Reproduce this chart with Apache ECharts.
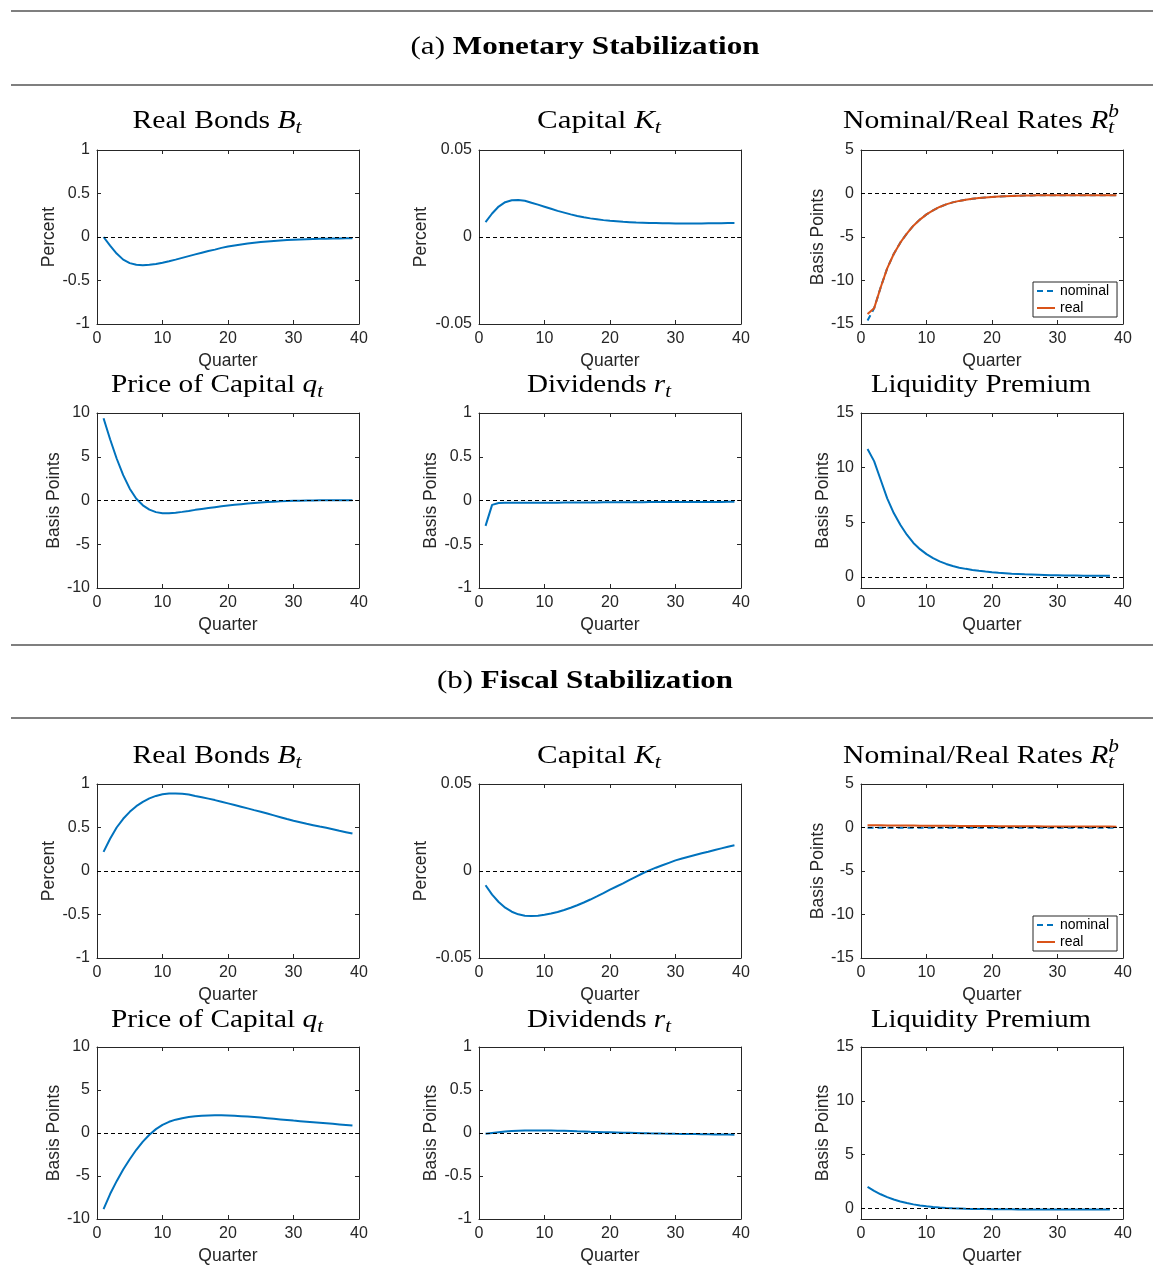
<!DOCTYPE html>
<html><head><meta charset="utf-8">
<script src="https://cdn.jsdelivr.net/npm/echarts@6/dist/echarts.min.js"></script>
<style>html,body{margin:0;padding:0;background:#fff}#c{width:1153px;height:1266px}</style>
</head><body><div id="c"></div>
<script>
// ---------------- DATA ----------------
const quarters = [1,2,3,4,5,6,7,8,9,10,11,12,13,14,15,16,17,18,19,20,21,22,23,24,25,26,27,28,29,30,31,32,33,34,35,36,37,38,39];
const quartersLiq = [1,2,3,4,5,6,7,8,9,10,11,12,13,14,15,16,17,18,19,20,21,22,23,24,25,26,27,28,29,30,31,32,33,34,35,36,37,38];
const xTicks = [0,10,20,30,40];

// (a) Monetary stabilization
const monBonds = [0.00,-0.10,-0.19,-0.26,-0.30,-0.32,-0.326,-0.32,-0.31,-0.295,-0.278,-0.26,-0.24,-0.22,-0.20,-0.18,-0.16,-0.145,-0.125,-0.11,-0.097,-0.085,-0.075,-0.066,-0.058,-0.051,-0.045,-0.04,-0.035,-0.031,-0.028,-0.025,-0.023,-0.021,-0.019,-0.017,-0.016,-0.015,-0.014];
const monCapital = [0.0085,0.0135,0.0175,0.0200,0.0211,0.0213,0.0208,0.0197,0.0186,0.0174,0.0162,0.0150,0.0140,0.0130,0.0121,0.0113,0.0107,0.0102,0.0097,0.0093,0.0090,0.0087,0.0085,0.0083,0.0082,0.0081,0.0080,0.0079,0.0079,0.0078,0.0078,0.0078,0.0078,0.0078,0.0079,0.0079,0.0079,0.0080,0.0080];
const monNominal = [-14.6,-13.2,-10.8,-8.6,-6.95,-5.65,-4.6,-3.7,-3.0,-2.4,-1.95,-1.55,-1.25,-1.02,-0.85,-0.72,-0.61,-0.52,-0.45,-0.39,-0.35,-0.31,-0.28,-0.26,-0.24,-0.22,-0.21,-0.2,-0.2,-0.19,-0.19,-0.19,-0.19,-0.19,-0.19,-0.19,-0.19,-0.19,-0.19];
const monReal = [-13.85,-13.2,-10.8,-8.6,-6.95,-5.65,-4.6,-3.7,-3.0,-2.4,-1.95,-1.55,-1.25,-1.02,-0.85,-0.72,-0.61,-0.52,-0.45,-0.39,-0.35,-0.31,-0.28,-0.26,-0.24,-0.22,-0.21,-0.2,-0.2,-0.19,-0.19,-0.19,-0.19,-0.19,-0.19,-0.19,-0.19,-0.19,-0.19];
const monPrice = [9.4,7.0,4.8,2.9,1.35,0.2,-0.55,-1.05,-1.33,-1.45,-1.46,-1.4,-1.3,-1.19,-1.07,-0.96,-0.86,-0.76,-0.66,-0.57,-0.49,-0.42,-0.35,-0.29,-0.23,-0.18,-0.14,-0.1,-0.07,-0.04,-0.02,0.0,0.01,0.02,0.03,0.04,0.04,0.04,0.04];
const monDividends = [-0.29,-0.05,-0.029,-0.027,-0.027,-0.027,-0.027,-0.026,-0.026,-0.026,-0.025,-0.025,-0.024,-0.024,-0.023,-0.023,-0.022,-0.022,-0.021,-0.021,-0.020,-0.020,-0.019,-0.019,-0.019,-0.018,-0.018,-0.018,-0.017,-0.017,-0.017,-0.017,-0.016,-0.016,-0.016,-0.016,-0.016,-0.015,-0.015];
const monLiquidity = [11.7,10.6,8.9,7.2,5.85,4.78,3.87,3.12,2.55,2.1,1.73,1.44,1.2,1.01,0.86,0.75,0.65,0.57,0.5,0.44,0.39,0.35,0.31,0.28,0.25,0.23,0.21,0.19,0.17,0.16,0.15,0.14,0.14,0.13,0.13,0.12,0.12,0.12];

// (b) Fiscal stabilization
const fisBonds = [0.22,0.37,0.50,0.60,0.68,0.745,0.795,0.835,0.863,0.882,0.891,0.892,0.888,0.88,0.862,0.848,0.832,0.815,0.796,0.777,0.758,0.739,0.720,0.700,0.681,0.660,0.639,0.618,0.597,0.577,0.560,0.543,0.527,0.511,0.496,0.479,0.462,0.446,0.43];
const fisCapital = [-0.0082,-0.0136,-0.0178,-0.0211,-0.0234,-0.0249,-0.0257,-0.0259,-0.0257,-0.0251,-0.0244,-0.0236,-0.0224,-0.0211,-0.0197,-0.0181,-0.0164,-0.0146,-0.0127,-0.0107,-0.0089,-0.0071,-0.0051,-0.0032,-0.0013,0.0004,0.0019,0.0033,0.0047,0.0061,0.0072,0.0082,0.0092,0.0102,0.0111,0.0121,0.0130,0.0139,0.0148];
const fisNominal = [-0.03,-0.03,-0.03,-0.02,-0.02,-0.02,-0.02,-0.02,-0.02,-0.02,-0.02,-0.02,-0.02,-0.02,-0.02,-0.02,-0.02,-0.02,-0.02,-0.02,-0.02,-0.02,-0.02,-0.02,-0.02,-0.02,-0.02,-0.02,-0.02,-0.02,-0.02,-0.02,-0.02,-0.02,-0.02,-0.02,-0.02,-0.02,-0.02];
const fisReal = [0.26,0.25,0.245,0.24,0.235,0.23,0.225,0.22,0.215,0.21,0.205,0.2,0.195,0.19,0.185,0.18,0.175,0.17,0.165,0.16,0.155,0.15,0.146,0.142,0.138,0.134,0.13,0.127,0.124,0.121,0.118,0.115,0.112,0.11,0.108,0.106,0.104,0.102,0.1];
const fisPrice = [-8.85,-7.1,-5.6,-4.25,-3.05,-1.95,-1.0,-0.2,0.45,0.95,1.3,1.55,1.72,1.85,1.94,2.0,2.04,2.06,2.06,2.04,2.0,1.96,1.91,1.85,1.79,1.72,1.65,1.58,1.51,1.44,1.38,1.32,1.26,1.2,1.14,1.07,1.0,0.93,0.86];
const fisDividends = [-0.01,0.0,0.01,0.017,0.022,0.026,0.028,0.03,0.03,0.03,0.029,0.027,0.025,0.023,0.02,0.018,0.015,0.013,0.01,0.008,0.006,0.004,0.002,0.0,-0.002,-0.004,-0.005,-0.007,-0.008,-0.01,-0.011,-0.012,-0.013,-0.014,-0.015,-0.016,-0.017,-0.018,-0.019];
const fisLiquidity = [1.98,1.62,1.3,1.03,0.81,0.63,0.48,0.36,0.26,0.18,0.11,0.06,0.02,-0.01,-0.03,-0.05,-0.06,-0.07,-0.08,-0.09,-0.095,-0.1,-0.1,-0.105,-0.105,-0.11,-0.11,-0.11,-0.115,-0.115,-0.115,-0.12,-0.12,-0.12,-0.12,-0.12,-0.12,-0.12];

const legendNames = ['nominal','real'];
const sectionTitles = ['(a) ', 'Monetary Stabilization', '(b) ', 'Fiscal Stabilization'];

// ---------------- LAYOUT / STYLE ----------------
const SANS = '"Liberation Sans", Arial, Helvetica, sans-serif';
const SERIF = '"Liberation Serif", "Times New Roman", serif';
const AX = '#262626';
const BLUE = '#0072BD', ORANGE = '#D95319';
const COLS = [97, 479, 861];
const ROWS = [150, 413, 784, 1047];
const HEIGHTS = [174, 175, 174, 175];
const PW = 262;
const TITLE_CX = [217, 599, 981];
const TITLE_BASE = [129, 393, 764, 1028];

function pairs(xs, ys) { return ys.map((v, i) => [xs[i], v]); }

const yCfg = {
  bonds: {min: -1, max: 1, interval: 0.5, name: 'Percent', gap: 39},
  capital: {min: -0.05, max: 0.05, interval: 0.05, name: 'Percent', gap: 49},
  rates: {min: -15, max: 5, interval: 5, name: 'Basis Points', gap: 34},
  price: {min: -10, max: 10, interval: 5, name: 'Basis Points', gap: 34},
  dividends: {min: -1, max: 1, interval: 0.5, name: 'Basis Points', gap: 39},
  liquidity: {min: -1, max: 15, custom: [0, 5, 10, 15], name: 'Basis Points', gap: 28}
};

const panels = [
  {row: 0, col: 0, y: 'bonds', lines: [{d: monBonds}]},
  {row: 0, col: 1, y: 'capital', lines: [{d: monCapital}]},
  {row: 0, col: 2, y: 'rates', lines: [{d: monNominal, name: 'nominal', dash: true}, {d: monReal, name: 'real', color: ORANGE}]},
  {row: 1, col: 0, y: 'price', lines: [{d: monPrice}]},
  {row: 1, col: 1, y: 'dividends', lines: [{d: monDividends}]},
  {row: 1, col: 2, y: 'liquidity', lines: [{d: monLiquidity, x: quartersLiq}]},
  {row: 2, col: 0, y: 'bonds', lines: [{d: fisBonds}]},
  {row: 2, col: 1, y: 'capital', lines: [{d: fisCapital}]},
  {row: 2, col: 2, y: 'rates', lines: [{d: fisNominal, name: 'nominal', dash: true}, {d: fisReal, name: 'real', color: ORANGE}]},
  {row: 3, col: 0, y: 'price', lines: [{d: fisPrice}]},
  {row: 3, col: 1, y: 'dividends', lines: [{d: fisDividends}]},
  {row: 3, col: 2, y: 'liquidity', lines: [{d: fisLiquidity, x: quartersLiq}]}
];

const TICK_FS = 16, NAME_FS = 17.5;
const grid = [], xAxis = [], yAxis = [], series = [];
panels.forEach((p, k) => {
  const yc = yCfg[p.y];
  grid.push({left: COLS[p.col], top: ROWS[p.row], width: PW, height: HEIGHTS[p.row], containLabel: false});
  const xBase = {
    gridIndex: k, type: 'value', min: 0, max: 40, interval: 10,
    axisLine: {show: true, onZero: false, lineStyle: {color: AX, width: 1}},
    axisTick: {show: true, inside: true, length: 4, lineStyle: {color: AX}},
    splitLine: {show: false}
  };
  xAxis.push(Object.assign({}, xBase, {
    position: 'bottom',
    axisLabel: {show: true, color: AX, fontSize: TICK_FS, fontFamily: SANS, margin: 7},
    name: 'Quarter', nameLocation: 'middle', nameGap: 28,
    nameTextStyle: {color: AX, fontSize: NAME_FS, fontFamily: SANS}
  }));
  xAxis.push(Object.assign({}, xBase, {position: 'top', axisLabel: {show: false}}));
  const yBase = {
    gridIndex: k, type: 'value', min: yc.min, max: yc.max,
    axisLine: {show: true, onZero: false, lineStyle: {color: AX, width: 1}},
    splitLine: {show: false}
  };
  if (yc.interval) yBase.interval = yc.interval;
  const tick = {show: true, inside: true, length: 4, lineStyle: {color: AX}};
  if (yc.custom) tick.customValues = yc.custom;
  yBase.axisTick = tick;
  const lab = {show: true, color: AX, fontSize: TICK_FS, fontFamily: SANS, margin: 7};
  if (yc.custom) lab.customValues = yc.custom;
  yAxis.push(Object.assign({}, yBase, {
    position: 'left', axisLabel: lab,
    name: yc.name, nameLocation: 'middle', nameGap: yc.gap,
    nameTextStyle: {color: AX, fontSize: NAME_FS, fontFamily: SANS}
  }));
  yAxis.push(Object.assign({}, yBase, {position: 'right', axisLabel: {show: false}}));
  p.lines.forEach((ln, j) => {
    const s = {
      type: 'line', name: ln.name, xAxisIndex: 2 * k, yAxisIndex: 2 * k,
      data: pairs(ln.x || quarters, ln.d), symbol: 'none', showSymbol: false,
      lineStyle: {color: ln.color || BLUE, width: 2, type: ln.dash ? [6, 4] : 'solid'},
      itemStyle: {color: ln.color || BLUE}, z: 2 + j, silent: true
    };
    if (j === 0) {
      s.markLine = {
        silent: true, symbol: 'none', label: {show: false}, animation: false,
        lineStyle: {color: '#000', type: [4, 3], width: 1},
        data: [{yAxis: 0}]
      };
    }
    series.push(s);
  });
});

// ---------------- TITLES (text pieces) ----------------
const mctx = document.createElement('canvas').getContext('2d');
function mw(font, t) { mctx.font = font; return mctx.measureText(t).width; }
function fontStr(style, weight, size, fam) { return style + ' ' + weight + ' ' + size + 'px ' + fam; }

function makeTitle(cx, base, parts, targetW) {
  let xs = 0, lastX = 0, stackW = 0;
  const placed = [];
  parts.forEach(pt => {
    const f = fontStr(pt.italic ? 'italic' : 'normal', pt.bold ? 'bold' : 'normal', pt.size, SERIF);
    const w = mw(f, pt.t);
    let x;
    if (pt.stack) { x = lastX; stackW = Math.max(stackW, w); }
    else { xs += stackW; stackW = 0; x = xs; lastX = x; if (pt.stackStart) { stackW = w; } else { xs += w; } }
    placed.push({f, x, pt});
  });
  xs += stackW;
  const total = xs;
  const sx = targetW ? targetW / total : 1.12;
  const children = placed.map(o => ({
    type: 'text', x: o.x - total / 2, y: (o.pt.dy || 0) - 0.30 * o.pt.size,
    style: {text: o.pt.t, font: o.f, fill: '#000', textAlign: 'left', align: 'left', textVerticalAlign: 'middle', verticalAlign: 'middle'}
  }));
  return {type: 'group', x: cx, y: base, scaleX: sx, children, silent: true};
}

const TS = 25, SUB = 18;
const titleParts = [
  [{t: 'Real Bonds ', size: TS}, {t: 'B', size: TS, italic: true}, {t: 't', size: SUB, italic: true, dy: 5}],
  [{t: 'Capital ', size: TS}, {t: 'K', size: TS, italic: true}, {t: 't', size: SUB, italic: true, dy: 5}],
  [{t: 'Nominal/Real Rates ', size: TS}, {t: 'R', size: TS, italic: true}, {t: 'b', size: SUB, italic: true, dy: -11, stackStart: true}, {t: 't', size: SUB, italic: true, dy: 5, stack: true}],
  [{t: 'Price of Capital ', size: TS}, {t: 'q', size: TS, italic: true}, {t: 't', size: SUB, italic: true, dy: 5}],
  [{t: 'Dividends ', size: TS}, {t: 'r', size: TS, italic: true}, {t: 't', size: SUB, italic: true, dy: 5}],
  [{t: 'Liquidity Premium', size: TS}]
];
const titleWidths = [169, 124, 276, 212, 144, 220];

const graphic = [];
[11, 85, 645, 718].forEach(y => graphic.push({type: 'line', shape: {x1: 11, y1: y, x2: 1153, y2: y}, style: {stroke: '#555', lineWidth: 1.3}, silent: true}));
graphic.push(makeTitle(585, 55, [{t: sectionTitles[0], size: 26}, {t: sectionTitles[1], size: 26, bold: true}], 349));
graphic.push(makeTitle(585, 689, [{t: sectionTitles[2], size: 26}, {t: sectionTitles[3], size: 26, bold: true}], 296));
[0, 1, 2, 3].forEach(r => {
  [0, 1, 2].forEach(c => {
    const idx = (r % 2) * 3 + c;
    const parts = titleParts[idx].map(o => Object.assign({}, o));
    graphic.push(makeTitle(TITLE_CX[c], TITLE_BASE[r], parts, titleWidths[idx]));
  });
});

const legendBase = {
  orient: 'vertical', data: legendNames, selectedMode: false,
  itemWidth: 18, itemHeight: 8, itemGap: 3, padding: [2, 8, 2, 3],
  borderColor: AX, borderWidth: 1, borderRadius: 0, backgroundColor: '#fff',
  itemStyle: {opacity: 0},
  textStyle: {fontSize: 14, color: '#000', fontFamily: SANS}, z: 10
};
const legend = [
  Object.assign({}, legendBase, {left: 1033, top: 282}),
  Object.assign({}, legendBase, {left: 1033, top: 916})
];

const chart = echarts.init(document.getElementById('c'), null, {renderer: 'canvas'});
chart.setOption({
  backgroundColor: '#fff', animation: false,
  grid, xAxis, yAxis, series, legend, graphic
});
</script></body></html>
